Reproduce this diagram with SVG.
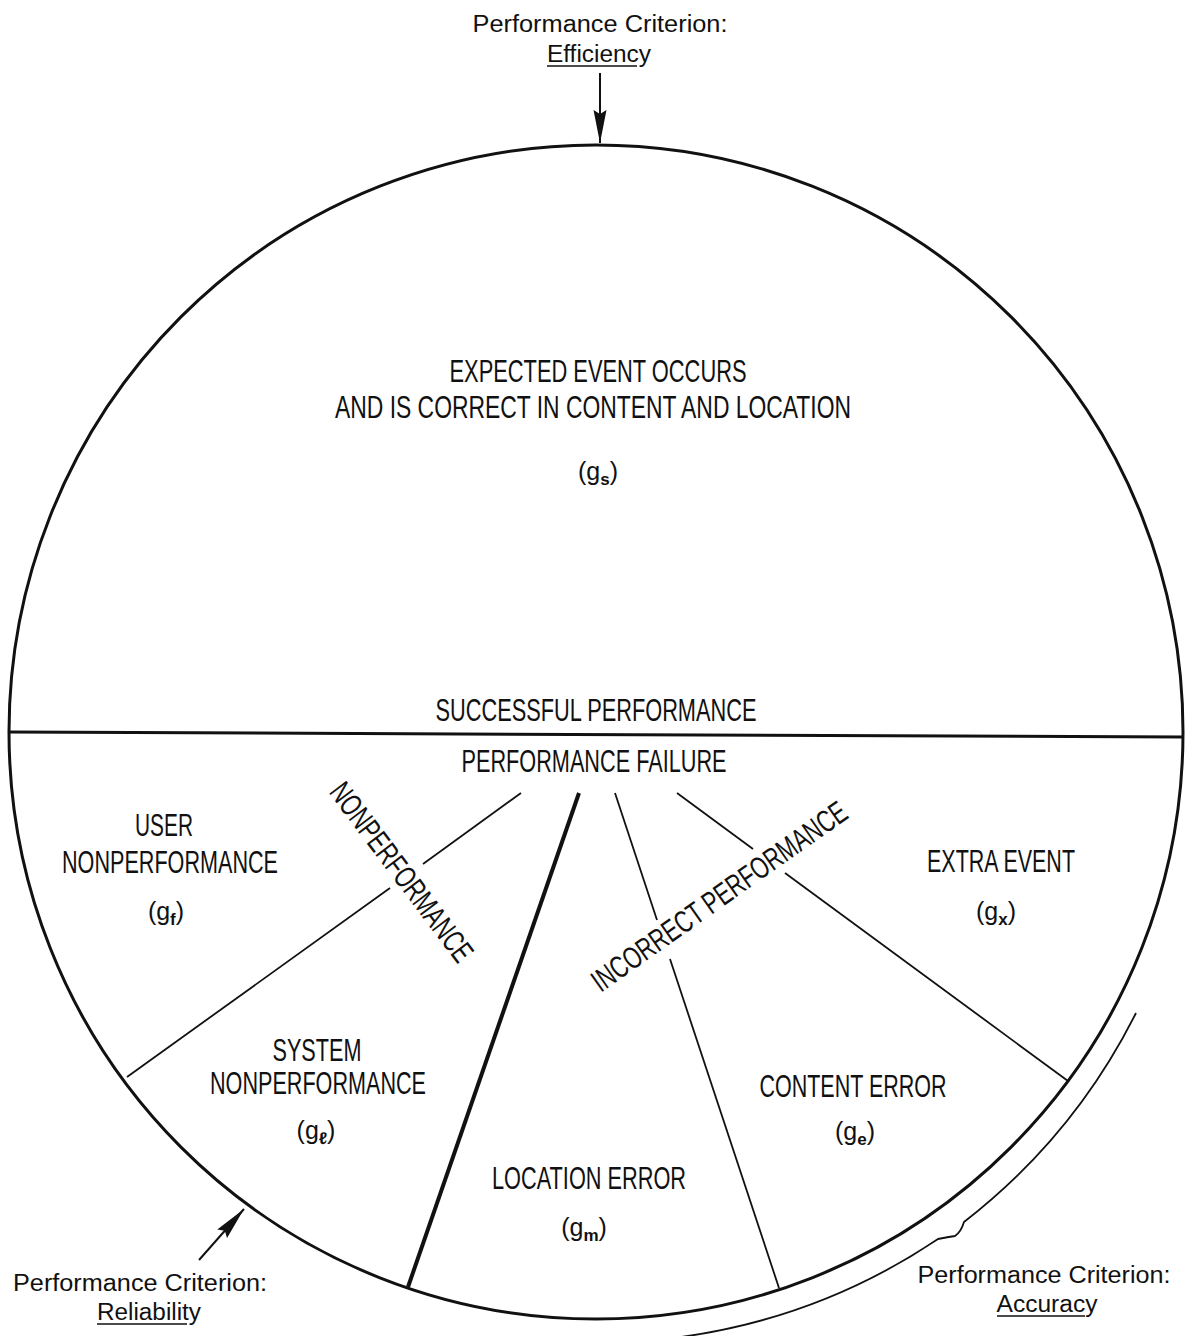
<svg xmlns="http://www.w3.org/2000/svg" width="1187" height="1336" viewBox="0 0 1187 1336">
<style>
.lbl{font-family:"Liberation Sans",Arial,sans-serif;font-size:31px;fill:#111;text-anchor:middle}
.sub{font-family:"Liberation Sans",Arial,sans-serif;font-size:25px;fill:#111;text-anchor:middle}
.sb{font-size:17px;font-weight:bold}
.crit{font-family:"Liberation Sans",Arial,sans-serif;font-size:23px;fill:#111;text-anchor:middle}
.thin{stroke:#111;stroke-width:1.8;fill:none}
.ul{stroke:#111;stroke-width:1.6}
</style>
<defs>
<marker id="ah" markerUnits="userSpaceOnUse" markerWidth="34" markerHeight="14" refX="33" refY="6.5" orient="auto">
<path d="M0,0 L33,6.5 L0,13 L4,6.5 z" fill="#111"/>
</marker>
</defs>
<rect width="1187" height="1336" fill="#fff"/>

<g id="frame">
<circle cx="596" cy="732" r="587" fill="none" stroke="#111" stroke-width="3"/>
<line x1="8" y1="732" x2="1183" y2="737" stroke="#111" stroke-width="3"/>
</g>

<g id="connectors">
<line class="thin" x1="521" y1="793" x2="423" y2="864"/>
<line class="thin" x1="390" y1="888" x2="127" y2="1077"/>
<line x1="579" y1="793" x2="408" y2="1287" stroke="#111" stroke-width="4"/>
<line class="thin" x1="615" y1="793" x2="657" y2="920"/>
<line class="thin" x1="670" y1="959" x2="779" y2="1288"/>
<line class="thin" x1="677" y1="793" x2="753" y2="849"/>
<line class="thin" x1="785" y1="873" x2="1068" y2="1081"/>
<path class="thin" stroke-width="2" d="M1136,1013 A611,611 0 0 1 964,1222 Q961,1232 955,1236 Q948,1237 938,1239 A611,611 0 0 1 681,1337"/>
<line x1="600" y1="73" x2="600" y2="143" stroke="#111" stroke-width="2" marker-end="url(#ah)"/>
<line x1="199" y1="1260" x2="244" y2="1209" stroke="#111" stroke-width="2" marker-end="url(#ah)"/>
</g>

<g id="crit-efficiency">
<text class="crit" x="600" y="32" textLength="255" lengthAdjust="spacingAndGlyphs">Performance Criterion:</text>
<text class="crit" x="599" y="62" textLength="104" lengthAdjust="spacingAndGlyphs">Efficiency</text>
<line class="ul" x1="547" y1="66" x2="637" y2="66"/>
</g>
<g id="crit-reliability">
<text class="crit" x="140" y="1291" textLength="254" lengthAdjust="spacingAndGlyphs">Performance Criterion:</text>
<text class="crit" x="149" y="1320" textLength="104" lengthAdjust="spacingAndGlyphs">Reliability</text>
<line class="ul" x1="97" y1="1324" x2="187" y2="1324"/>
</g>
<g id="crit-accuracy">
<text class="crit" x="1044" y="1283" textLength="253" lengthAdjust="spacingAndGlyphs">Performance Criterion:</text>
<text class="crit" x="1047" y="1312" textLength="101" lengthAdjust="spacingAndGlyphs">Accuracy</text>
<line class="ul" x1="997" y1="1316" x2="1085" y2="1316"/>
</g>

<g id="expected-event">
<text class="lbl" x="598" y="382" textLength="297" lengthAdjust="spacingAndGlyphs">EXPECTED EVENT OCCURS</text>
<text class="lbl" x="593" y="418" textLength="516" lengthAdjust="spacingAndGlyphs">AND IS CORRECT IN CONTENT  AND LOCATION</text>
<text class="sub" x="598" y="480">(g<tspan class="sb" dy="5">s</tspan><tspan dy="-5">)</tspan></text>
</g>

<g id="successful-performance">
<text class="lbl" x="596" y="721" textLength="321" lengthAdjust="spacingAndGlyphs">SUCCESSFUL PERFORMANCE</text>
</g>
<g id="performance-failure">
<text class="lbl" x="594" y="772" textLength="265" lengthAdjust="spacingAndGlyphs">PERFORMANCE FAILURE</text>
</g>

<g id="user-nonperformance">
<text class="lbl" x="164" y="836" textLength="58" lengthAdjust="spacingAndGlyphs">USER</text>
<text class="lbl" x="170" y="873" textLength="216" lengthAdjust="spacingAndGlyphs">NONPERFORMANCE</text>
<text class="sub" x="166" y="920">(g<tspan class="sb" dy="5">f</tspan><tspan dy="-5">)</tspan></text>
</g>

<g id="extra-event">
<text class="lbl" x="1001" y="872" textLength="148" lengthAdjust="spacingAndGlyphs">EXTRA EVENT</text>
<text class="sub" x="996" y="920">(g<tspan class="sb" dy="5">x</tspan><tspan dy="-5">)</tspan></text>
</g>

<g id="nonperformance">
<text class="lbl" transform="translate(402,872) rotate(53)" x="0" y="11" textLength="216" lengthAdjust="spacingAndGlyphs">NONPERFORMANCE</text>
</g>
<g id="incorrect-performance">
<text class="lbl" transform="translate(719,896) rotate(-35.2)" x="0" y="11" textLength="305" lengthAdjust="spacingAndGlyphs">INCORRECT PERFORMANCE</text>
</g>

<g id="system-nonperformance">
<text class="lbl" x="317" y="1061" textLength="89" lengthAdjust="spacingAndGlyphs">SYSTEM</text>
<text class="lbl" x="318" y="1094" textLength="216" lengthAdjust="spacingAndGlyphs">NONPERFORMANCE</text>
<text class="sub" x="316" y="1139">(g<tspan class="sb" dy="5">ℓ</tspan><tspan dy="-5">)</tspan></text>
</g>

<g id="location-error">
<text class="lbl" x="589" y="1189" textLength="194" lengthAdjust="spacingAndGlyphs">LOCATION ERROR</text>
<text class="sub" x="584" y="1236">(g<tspan class="sb" dy="5">m</tspan><tspan dy="-5">)</tspan></text>
</g>

<g id="content-error">
<text class="lbl" x="853" y="1097" textLength="187" lengthAdjust="spacingAndGlyphs">CONTENT ERROR</text>
<text class="sub" x="855" y="1140">(g<tspan class="sb" dy="5">e</tspan><tspan dy="-5">)</tspan></text>
</g>
</svg>
